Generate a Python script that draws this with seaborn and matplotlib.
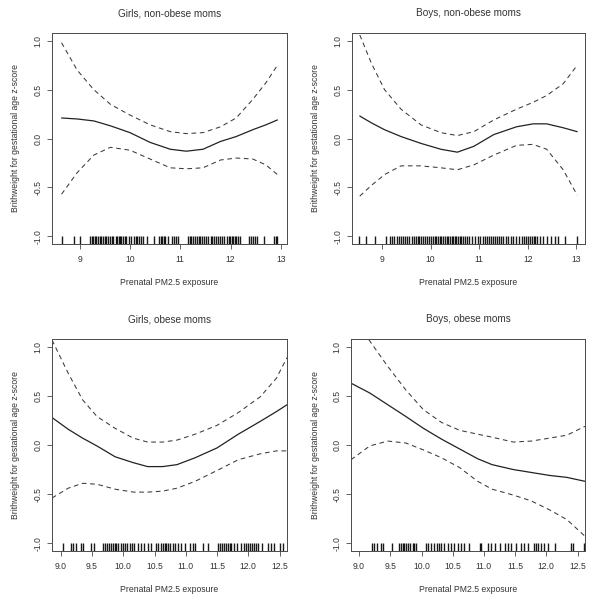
import matplotlib
matplotlib.use("Agg")
import matplotlib.pyplot as plt
import seaborn as sns

# ---------------- data ----------------
titles = ["Girls, non-obese moms", "Boys, non-obese moms",
          "Girls, obese moms", "Boys, obese moms"]
xlabel = "Prenatal PM2.5 exposure"
ylabel = "Brithweight for gestational age z-score"

# Panel 1: Girls, non-obese moms
p1_x = [8.64, 8.95, 9.28, 9.61, 10.0, 10.4, 10.8, 11.12, 11.45, 11.8, 12.11, 12.44, 12.7, 12.93]
p1_fit = [0.21, 0.20, 0.18, 0.13, 0.06, -0.04, -0.11, -0.13, -0.11, -0.03, 0.02, 0.09, 0.14, 0.19]
p1_up = [0.98, 0.70, 0.50, 0.35, 0.24, 0.14, 0.07, 0.05, 0.06, 0.12, 0.21, 0.40, 0.57, 0.75]
p1_lo = [-0.57, -0.35, -0.17, -0.09, -0.12, -0.21, -0.30, -0.31, -0.30, -0.22, -0.20, -0.21, -0.27, -0.37]
p1_rug = [8.64, 8.88, 9.01, 9.21, 9.24, 9.27, 9.30, 9.33, 9.36, 9.40, 9.43, 9.47, 9.50, 9.53,
          9.57, 9.60, 9.64, 9.67, 9.72, 9.75, 9.78, 9.80, 9.82, 9.86, 9.90, 9.93, 9.98, 10.02,
          10.08, 10.11, 10.14, 10.18, 10.21, 10.26, 10.34, 10.48, 10.58, 10.61, 10.64, 10.67,
          10.70, 10.76, 10.84, 10.88, 10.91, 10.96, 11.15, 11.19, 11.22, 11.26, 11.30, 11.33,
          11.37, 11.40, 11.44, 11.48, 11.52, 11.56, 11.60, 11.63, 11.67, 11.70, 11.74, 11.78,
          11.82, 11.87, 11.92, 11.96, 11.99, 12.02, 12.05, 12.08, 12.11, 12.15, 12.19, 12.37,
          12.41, 12.45, 12.48, 12.52, 12.66, 12.86, 12.90, 12.93]

# Panel 2: Boys, non-obese moms
p2_x = [8.54, 8.78, 9.05, 9.39, 9.8, 10.21, 10.55, 10.89, 11.3, 11.77, 12.11, 12.39, 12.73, 13.02]
p2_fit = [0.23, 0.16, 0.09, 0.02, -0.05, -0.11, -0.14, -0.08, 0.04, 0.12, 0.15, 0.15, 0.11, 0.07]
p2_up = [1.06, 0.77, 0.50, 0.30, 0.14, 0.06, 0.03, 0.07, 0.19, 0.30, 0.37, 0.44, 0.56, 0.75]
p2_lo = [-0.59, -0.48, -0.37, -0.28, -0.28, -0.30, -0.32, -0.27, -0.17, -0.07, -0.06, -0.11, -0.32, -0.58]
p2_rug = [8.53, 8.66, 8.86, 9.09, 9.16, 9.20, 9.25, 9.30, 9.34, 9.38, 9.43, 9.47, 9.52, 9.56,
          9.61, 9.65, 9.69, 9.73, 9.77, 9.80, 9.84, 9.88, 9.92, 9.97, 10.01, 10.04, 10.08, 10.12,
          10.15, 10.19, 10.22, 10.26, 10.29, 10.33, 10.36, 10.40, 10.43, 10.46, 10.50, 10.53,
          10.56, 10.60, 10.63, 10.67, 10.70, 10.75, 10.80, 10.86, 10.92, 10.97, 11.02, 11.08,
          11.13, 11.17, 11.21, 11.25, 11.29, 11.33, 11.37, 11.41, 11.45, 11.50, 11.55, 11.60,
          11.65, 11.70, 11.76, 11.83, 11.88, 11.92, 11.96, 12.00, 12.04, 12.08, 12.12, 12.16,
          12.20, 12.25, 12.32, 12.40, 12.48, 12.56, 12.63, 12.77, 13.02]

# Panel 3: Girls, obese moms
p3_x = [8.86, 9.12, 9.35, 9.58, 9.87, 10.16, 10.39, 10.63, 10.86, 11.15, 11.5, 11.84, 12.19, 12.45, 12.62]
p3_fit = [0.28, 0.16, 0.07, -0.01, -0.12, -0.18, -0.22, -0.22, -0.20, -0.13, -0.03, 0.11, 0.24, 0.34, 0.41]
p3_up = [1.07, 0.73, 0.46, 0.29, 0.17, 0.07, 0.03, 0.03, 0.05, 0.11, 0.20, 0.33, 0.49, 0.68, 0.89]
p3_lo = [-0.54, -0.44, -0.39, -0.40, -0.45, -0.48, -0.48, -0.47, -0.44, -0.37, -0.26, -0.15, -0.09, -0.06, -0.06]
p3_rug = [9.03, 9.16, 9.20, 9.25, 9.32, 9.35, 9.48, 9.53, 9.68, 9.71, 9.74, 9.77, 9.80, 9.83,
          9.86, 9.89, 9.92, 9.96, 9.99, 10.02, 10.06, 10.10, 10.14, 10.17, 10.24, 10.28, 10.33,
          10.39, 10.45, 10.53, 10.56, 10.60, 10.63, 10.66, 10.69, 10.72, 10.75, 10.79, 10.83,
          10.88, 10.92, 10.98, 11.07, 11.11, 11.15, 11.27, 11.35, 11.52, 11.55, 11.58, 11.61,
          11.64, 11.67, 11.70, 11.73, 11.77, 11.82, 11.89, 11.93, 11.96, 11.99, 12.02, 12.06,
          12.09, 12.12, 12.16, 12.22, 12.32, 12.37, 12.41, 12.50, 12.55]

# Panel 4: Boys, obese moms
p4_x = [8.87, 9.17, 9.46, 9.75, 10.03, 10.32, 10.61, 10.9, 11.13, 11.47, 11.76, 12.05, 12.33, 12.62]
p4_fit = [0.63, 0.53, 0.41, 0.29, 0.17, 0.06, -0.04, -0.14, -0.20, -0.25, -0.28, -0.31, -0.33, -0.37]
p4_up = [1.36, 1.06, 0.80, 0.56, 0.36, 0.23, 0.15, 0.11, 0.08, 0.03, 0.04, 0.07, 0.10, 0.19]
p4_lo = [-0.15, -0.01, 0.04, 0.02, -0.05, -0.13, -0.23, -0.37, -0.45, -0.51, -0.57, -0.66, -0.76, -0.93]
p4_rug = [9.20, 9.24, 9.29, 9.35, 9.39, 9.52, 9.64, 9.67, 9.70, 9.72, 9.75, 9.78, 9.82, 9.86,
          9.88, 9.91, 10.07, 10.11, 10.15, 10.20, 10.25, 10.28, 10.32, 10.36, 10.42, 10.47,
          10.52, 10.58, 10.64, 10.68, 10.76, 10.93, 10.96, 11.06, 11.11, 11.17, 11.25, 11.33,
          11.39, 11.44, 11.51, 11.60, 11.64, 11.70, 11.81, 11.84, 11.87, 11.91, 11.97, 12.02,
          12.14, 12.39, 12.42, 12.61]

xticks_top = [9, 10, 11, 12, 13]
xticks_bottom = [9.0, 9.5, 10.0, 10.5, 11.0, 11.5, 12.0, 12.5]
yticks = [-1.0, -0.5, 0.0, 0.5, 1.0]

# ---------------- style ----------------
sns.set_theme(style="ticks")
plt.rcParams['font.family'] = ['Liberation Sans', 'DejaVu Sans']
plt.rcParams['axes.unicode_minus'] = False

LINE = "#222222"
DASH = "#3a3a3a"
TEXT = "#333333"
SPINE = "#4a4a4a"

fig = plt.figure(figsize=(6, 6), dpi=100)
fig.patch.set_facecolor("white")

panels = [
    (p1_x, p1_fit, p1_up, p1_lo, p1_rug, (8.45, 13.12), xticks_top, "{:.0f}",
     [52, 33, 287, 244]),
    (p2_x, p2_fit, p2_up, p2_lo, p2_rug, (8.38, 13.18), xticks_top, "{:.0f}",
     [352, 33, 585, 244]),
    (p3_x, p3_fit, p3_up, p3_lo, p3_rug, (8.86, 12.62), xticks_bottom, "{:.1f}",
     [52, 339, 287, 551]),
    (p4_x, p4_fit, p4_up, p4_lo, p4_rug, (8.87, 12.62), xticks_bottom, "{:.1f}",
     [351, 339, 585, 551]),
]

for i, (xs, fit, up, lo, rug, xlim, xt, fmt, box) in enumerate(panels):
    l, t, r, b = box
    W, H = 600.0, 600.0
    ax = fig.add_axes([l / W, 1 - b / H, (r - l) / W, (b - t) / H])
    ax.set_facecolor("white")
    pw, ph = r - l, b - t

    sns.lineplot(x=xs, y=fit, ax=ax, color=LINE, lw=0.9, estimator=None, sort=False)
    sns.lineplot(x=xs, y=up, ax=ax, color=DASH, lw=0.75, estimator=None, sort=False,
                 linestyle=(0, (4.5, 3.5)))
    sns.lineplot(x=xs, y=lo, ax=ax, color=DASH, lw=0.75, estimator=None, sort=False,
                 linestyle=(0, (4.5, 3.5)))
    sns.rugplot(x=rug, ax=ax, height=0.036, color="black", lw=0.6,
                expand_margins=False, alpha=0.9)

    ax.set_xlim(*xlim)
    ax.set_ylim(-1.08, 1.08)

    ax.set_xticks(xt)
    ax.set_xticklabels([fmt.format(v) for v in xt])
    ax.set_yticks(yticks)
    ax.set_yticklabels(["{:.1f}".format(v) for v in yticks], rotation=90, va="center")

    ax.tick_params(axis="both", direction="out", length=3.5, width=0.6,
                   color=SPINE, labelcolor=TEXT, labelsize=6.2)
    ax.tick_params(axis="x", pad=4.5)
    ax.tick_params(axis="y", pad=3.5)

    for sp in ax.spines.values():
        sp.set_visible(True)
        sp.set_color(SPINE)
        sp.set_linewidth(0.7)

    ax.set_xlabel(xlabel, fontsize=6.2, color=TEXT)
    ax.set_ylabel(ylabel, fontsize=6.2, color=TEXT)
    ax.xaxis.set_label_coords(0.5, -38.0 / ph)
    ax.xaxis.label.set_va("center")
    ax.yaxis.set_label_coords(-36.0 / pw, 0.5)
    ax.yaxis.label.set_va("center")

    ax.set_title(titles[i], fontsize=7.2, color=TEXT, pad=0,
                 y=1 + 20.0 / ph, va="center")

fig.savefig("out.png", dpi=100, facecolor="white")
